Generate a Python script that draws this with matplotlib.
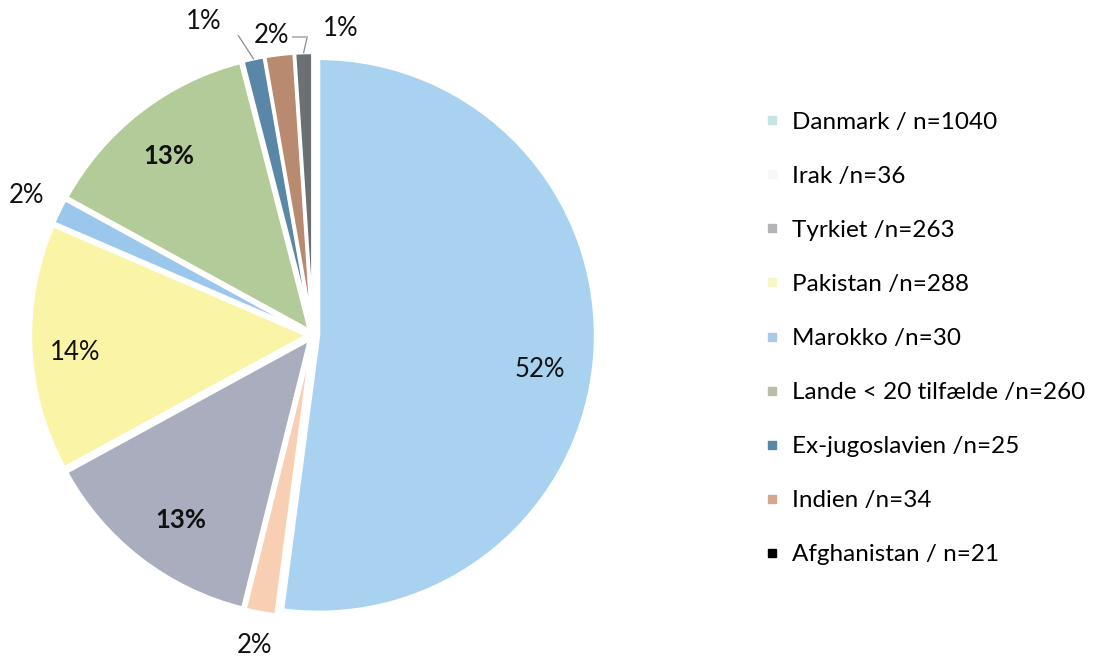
import numpy as np
import matplotlib.pyplot as plt

plt.rcParams['font.family'] = ['Lato', 'DejaVu Sans']

legend_labels = ['Danmark / n=1040', 'Irak /n=36', 'Tyrkiet /n=263', 'Pakistan /n=288',
                 'Marokko /n=30', 'Lande < 20 tilfælde /n=260', 'Ex-jugoslavien /n=25',
                 'Indien /n=34', 'Afghanistan / n=21']
counts = [1040, 36, 263, 288, 30, 260, 25, 34, 21]
pct_labels = ['52%', '2%', '13%', '14%', '2%', '13%', '1%', '2%', '1%']
colors = ['#A8D2F0', '#F8CFB2', '#A9ADBD', '#FAF4A6', '#9CC7EC', '#B3CB98', '#5A87A7', '#B88A70', '#6C7073']
marker_colors = ['#C6E3E6', '#F7F7F7', '#B4B4B8', '#F6F8C8', '#A9C9E6', '#B9BEAA', '#5B87A7', '#D3A88C', '#000000']
bold = [False, False, True, False, False, True, False, False, False]
# label distance (in radius units) and angle shift (deg) per slice
lab_dist = [0.83, 1.14, 0.82, 0.86, 1.15, 0.83, 1.20, 1.09, 1.11]
lab_shift = [-5, 0, 2, 1.5, 0, 1, 7, 1, -7]

W, H = 1106, 657
fig = plt.figure(figsize=(W / 100, H / 100), dpi=100)
R = 277
cx, cy = 313, H - 335
half = 300
ax = fig.add_axes([(cx - half) / W, (cy - half) / H, 2 * half / W, 2 * half / H])

wedges, _ = ax.pie(counts, colors=colors, startangle=90, counterclock=False,
                   explode=[0.02] * len(counts), radius=1.0,
                   wedgeprops=dict(edgecolor='white', linewidth=2.5))
lim = half / R
ax.set_xlim(-lim, lim)
ax.set_ylim(-lim, lim)
ax.set_aspect('equal')
ax.axis('off')

for i, w in enumerate(wedges):
    mid = np.deg2rad((w.theta1 + w.theta2) / 2 + lab_shift[i])
    d = lab_dist[i]
    x, y = d * np.cos(mid), d * np.sin(mid)
    ax.text(x, y, pct_labels[i], ha='center', va='center', fontsize=18.5,
            fontweight='bold' if bold[i] else 'normal', color='#111111')

# leader lines for the tiny slices at the top
for i in (6, 8):
    w = wedges[i]
    m = np.deg2rad((w.theta1 + w.theta2) / 2)
    c = np.array(w.center)
    p0 = c + 1.0 * np.array([np.cos(m), np.sin(m)])
    mt = np.deg2rad((w.theta1 + w.theta2) / 2 + lab_shift[i])
    lp = lab_dist[i] * np.array([np.cos(mt), np.sin(mt)])
    p1 = lp + np.array([0.11 if i == 6 else -0.12, -0.03])
    ax.plot([p0[0], p1[0]], [p0[1], p1[1]], color='#8C8C8C', lw=0.9)
    ax.plot([p1[0], p1[0] + (0.05 if i == 6 else -0.05)], [p1[1], p1[1]], color='#BBBBBB', lw=1.5)

handles = [plt.Line2D([], [], marker='s', ls='', markersize=6, color=mc) for mc in marker_colors]
fig.legend(handles, legend_labels, loc='upper left', bbox_to_anchor=(754 / W, 1 - 102 / H),
           frameon=False, fontsize=17.5, labelspacing=1.36, handlelength=0.7,
           handletextpad=0.45, borderaxespad=0)

fig.savefig('out.png', dpi=100)
